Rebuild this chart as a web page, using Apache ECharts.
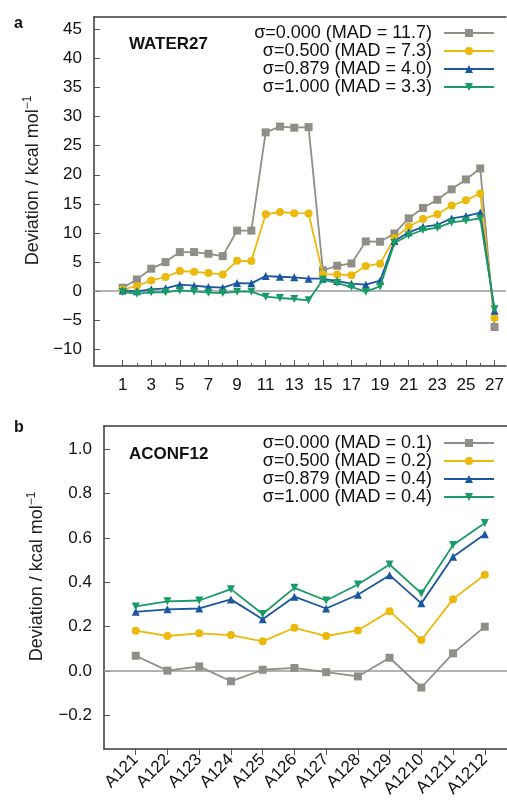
<!DOCTYPE html>
<html>
<head>
<meta charset="utf-8">
<script src="https://cdn.jsdelivr.net/npm/echarts@6/dist/echarts.min.js"></script>
<style>
  html, body { margin: 0; padding: 0; background: #fff; }
  #chart { width: 507px; height: 806px; }
</style>
</head>
<body>
<div id="chart"></div>
<script>
// Panel a: WATER27 deviations per system
const waterIds = [1, 2, 3, 4, 5, 6, 7, 8, 9, 10, 11, 12, 13, 14, 15, 16, 17, 18, 19, 20, 21, 22, 23, 24, 25, 26, 27];
const waterS0000 = [0.57, 2.0, 3.84, 4.98, 6.7, 6.7, 6.41, 6.0, 10.4, 10.4, 27.3, 28.3, 28.1, 28.2, 3.55, 4.35, 4.75, 8.53, 8.48, 9.9, 12.5, 14.3, 15.7, 17.5, 19.2, 21.1, -6.19];
const waterS0500 = [0.23, 0.86, 1.83, 2.4, 3.44, 3.32, 3.09, 2.86, 5.2, 5.15, 13.2, 13.6, 13.4, 13.35, 2.86, 2.86, 2.7, 4.3, 4.7, 9.1, 11.05, 12.4, 13.2, 14.7, 15.6, 16.8, -4.64];
const waterS0879 = [0.1, -0.05, 0.3, 0.46, 1.09, 0.92, 0.69, 0.57, 1.37, 1.32, 2.58, 2.46, 2.35, 2.12, 2.12, 1.72, 1.26, 1.09, 1.78, 8.6, 10.1, 11.05, 11.4, 12.5, 12.9, 13.5, -3.38];
const waterS1000 = [-0.17, -0.46, -0.23, -0.23, 0.11, -0.06, -0.29, -0.34, -0.11, -0.11, -0.97, -1.2, -1.37, -1.6, 1.95, 1.37, 0.69, -0.11, 0.8, 8.25, 9.6, 10.5, 10.9, 11.8, 12.1, 12.5, -3.15];
const waterNames = ['σ=0.000 (MAD = 11.7)', 'σ=0.500 (MAD = 7.3)', 'σ=0.879 (MAD = 4.0)', 'σ=1.000 (MAD = 3.3)'];
const waterXLabels = [1, 3, 5, 7, 9, 11, 13, 15, 17, 19, 21, 23, 25, 27];
const waterXMinor = [2, 4, 6, 8, 10, 12, 14, 16, 18, 20, 22, 24, 26];
const waterYTicks = [-10, -5, 0, 5, 10, 15, 20, 25, 30, 35, 40, 45];

// Panel b: ACONF12 deviations per conformer
const aconfIds = ['A121', 'A122', 'A123', 'A124', 'A125', 'A126', 'A127', 'A128', 'A129', 'A1210', 'A1211', 'A1212'];
const aconfS0000 = [0.069, 0.002, 0.021, -0.046, 0.006, 0.014, -0.005, -0.024, 0.060, -0.074, 0.080, 0.200];
const aconfS0500 = [0.182, 0.158, 0.170, 0.162, 0.134, 0.195, 0.158, 0.183, 0.270, 0.140, 0.324, 0.434];
const aconfS0879 = [0.267, 0.278, 0.282, 0.323, 0.233, 0.335, 0.282, 0.344, 0.432, 0.305, 0.515, 0.616];
const aconfS1000 = [0.291, 0.314, 0.318, 0.369, 0.257, 0.375, 0.318, 0.390, 0.480, 0.350, 0.568, 0.667];
const aconfNames = ['σ=0.000 (MAD = 0.1)', 'σ=0.500 (MAD = 0.2)', 'σ=0.879 (MAD = 0.4)', 'σ=1.000 (MAD = 0.4)'];
const aconfYTicks = [-0.2, 0, 0.2, 0.4, 0.6, 0.8, 1.0];

const FONT = 'Liberation Sans, Arial, Helvetica, sans-serif';
const colors = ['#8f8f87', '#ebb90c', '#1b56a0', '#189b64'];
const symbols = ['rect', 'circle', 'triangle', 'path://M0,0L10,0L5,9Z'];
const symbolSizes = [8, 8, 8, 8];
const frameColor = '#3a3a3a';
const minus = v => (v < 0 ? '\u2212' : '') + Math.abs(v);

const chart = echarts.init(document.getElementById('chart'), null, { renderer: 'canvas' });

function lineSeries(name, idx, xs, ys, axisIdx, withZero) {
  const s = {
    name: name,
    type: 'line',
    xAxisIndex: axisIdx === 0 ? 0 : 3,
    yAxisIndex: axisIdx,
    data: xs.map((x, i) => [x, ys[i]]),
    symbol: symbols[idx],
    symbolSize: symbolSizes[idx],
    showAllSymbol: true,
    color: colors[idx],
    lineStyle: { width: 1.8, color: colors[idx] },
    itemStyle: { color: colors[idx] },
    z: 3 + idx,
    animation: false
  };
  if (withZero) {
    s.markLine = {
      silent: true,
      symbol: ['none', 'none'],
      label: { show: false },
      lineStyle: { color: '#9a9a9a', width: 1.5, type: 'solid' },
      data: [{ yAxis: 0 }],
      z: 1
    };
  }
  return s;
}

const nameRich = {
  m: { fontSize: 18, fontFamily: FONT, color: '#222' },
  s: { fontSize: 12, fontFamily: FONT, color: '#222', verticalAlign: 'top', lineHeight: 23 }
};

const frameLine = { show: true, onZero: false, lineStyle: { color: frameColor, width: 1.5 } };
const legendText = { fontSize: 18, lineHeight: 18, color: '#111', fontFamily: FONT, padding: [0, 7, 0, 0] };

const option = {
  animation: false,
  backgroundColor: '#ffffff',
  textStyle: { fontFamily: FONT },
  title: [
    { text: 'a', left: 9, top: 11, textStyle: { fontSize: 16, fontWeight: 'bold', color: '#111', fontFamily: FONT } },
    { text: 'WATER27', left: 124, top: 31, textStyle: { fontSize: 17, fontWeight: 'bold', color: '#111', fontFamily: FONT } },
    { text: 'b', left: 9, top: 415, textStyle: { fontSize: 16, fontWeight: 'bold', color: '#111', fontFamily: FONT } },
    { text: 'ACONF12', left: 124, top: 441, textStyle: { fontSize: 17, fontWeight: 'bold', color: '#111', fontFamily: FONT } }
  ],
  legend: [
    {
      data: waterNames, orient: 'vertical', align: 'right', right: 12, top: 24, padding: 0,
      itemWidth: 50, itemHeight: 10, itemGap: 0, textStyle: legendText
    },
    {
      data: aconfNames, orient: 'vertical', align: 'right', right: 12, top: 434, padding: 0,
      itemWidth: 50, itemHeight: 10, itemGap: 0, textStyle: legendText
    }
  ],
  grid: [
    { left: 94, top: 17, width: 413, height: 349 },
    { left: 104, top: 426, width: 403, height: 323 }
  ],
  xAxis: [
    // panel a: frame bottom, major ticks and labels at odd ids
    {
      gridIndex: 0, type: 'value', min: -1, max: 27.8, position: 'bottom',
      axisLine: frameLine,
      axisTick: { show: true, inside: true, length: 6, customValues: waterXLabels, lineStyle: { color: '#555', width: 1 } },
      axisLabel: { show: true, customValues: waterXLabels, fontSize: 17, color: '#111', margin: 11, fontFamily: FONT },
      splitLine: { show: false }
    },
    // panel a: minor ticks at even ids
    {
      gridIndex: 0, type: 'value', min: -1, max: 27.8, position: 'bottom',
      axisLine: { show: false, onZero: false },
      axisTick: { show: true, inside: true, length: 3, customValues: waterXMinor, lineStyle: { color: '#555', width: 1 } },
      axisLabel: { show: false },
      splitLine: { show: false }
    },
    // panel a: frame top
    {
      gridIndex: 0, type: 'value', min: -1, max: 27.8, position: 'top',
      axisLine: frameLine,
      axisTick: { show: false }, axisLabel: { show: false }, splitLine: { show: false }
    },
    // panel b: conformer axis
    {
      gridIndex: 1, type: 'value', min: 0, max: 12.7, position: 'bottom',
      axisLine: frameLine,
      axisTick: { show: true, inside: false, length: 6, customValues: aconfIds.map((_, i) => i + 1), lineStyle: { color: '#555', width: 1 } },
      axisLabel: {
        show: true, customValues: aconfIds.map((_, i) => i + 1), rotate: 45, fontSize: 17, color: '#111', margin: 8, fontFamily: FONT,
        formatter: v => aconfIds[Math.round(v) - 1] || ''
      },
      splitLine: { show: false }
    },
    // panel b: frame top
    {
      gridIndex: 1, type: 'value', min: 0, max: 12.7, position: 'top',
      axisLine: frameLine,
      axisTick: { show: false }, axisLabel: { show: false }, splitLine: { show: false }
    }
  ],
  yAxis: [
    {
      gridIndex: 0, type: 'value', min: -12.9, max: 47.15, position: 'left',
      name: '{m|Deviation / kcal mol}{s|\u22121}', nameLocation: 'middle', nameGap: 47,
      nameTextStyle: { rich: nameRich, padding: [0, 0, 0, 22] },
      axisLine: frameLine,
      axisTick: { show: true, inside: true, length: 6, customValues: waterYTicks, lineStyle: { color: '#555', width: 1 } },
      axisLabel: { show: true, customValues: waterYTicks, fontSize: 17, color: '#111', margin: 12, fontFamily: FONT, formatter: v => minus(v) },
      splitLine: { show: false }
    },
    {
      gridIndex: 1, type: 'value', min: -0.351, max: 1.104, position: 'left',
      name: '{m|Deviation / kcal mol}{s|\u22121}', nameLocation: 'middle', nameGap: 55,
      nameTextStyle: { rich: nameRich, padding: [0, 0, 0, 22] },
      axisLine: frameLine,
      axisTick: { show: true, inside: true, length: 6, customValues: aconfYTicks, lineStyle: { color: '#555', width: 1 } },
      axisLabel: {
        show: true, customValues: aconfYTicks, fontSize: 17, color: '#111', margin: 12, fontFamily: FONT,
        formatter: v => (v < 0 ? '\u2212' : '') + Math.abs(v).toFixed(1)
      },
      splitLine: { show: false }
    }
  ],
  series: [
    lineSeries(waterNames[0], 0, waterIds, waterS0000, 0, true),
    lineSeries(waterNames[1], 1, waterIds, waterS0500, 0, false),
    lineSeries(waterNames[2], 2, waterIds, waterS0879, 0, false),
    lineSeries(waterNames[3], 3, waterIds, waterS1000, 0, false),
    lineSeries(aconfNames[0], 0, aconfIds.map((_, i) => i + 1), aconfS0000, 1, true),
    lineSeries(aconfNames[1], 1, aconfIds.map((_, i) => i + 1), aconfS0500, 1, false),
    lineSeries(aconfNames[2], 2, aconfIds.map((_, i) => i + 1), aconfS0879, 1, false),
    lineSeries(aconfNames[3], 3, aconfIds.map((_, i) => i + 1), aconfS1000, 1, false)
  ]
};

chart.setOption(option);
</script>
</body>
</html>
